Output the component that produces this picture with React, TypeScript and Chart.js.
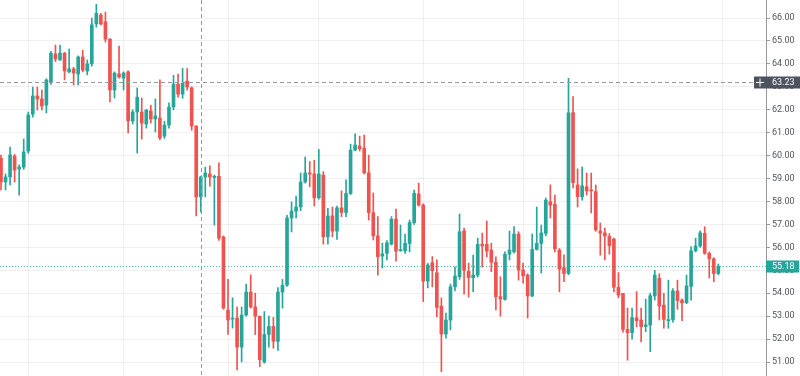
import React, { useEffect, useRef } from 'react';
import { Chart, registerables } from 'chart.js';

Chart.register(...registerables);

// Daily OHLC values
const opens = [
  59.89, 58.85, 59.07, 59.98, 59.42, 59.50, 60.20, 61.81, 62.60, 62.47,
  62.20, 63.20, 64.43, 64.17, 64.47, 63.65, 63.78, 63.56, 64.30, 63.69,
  64.00, 65.74, 66.13, 65.83, 65.08, 62.86, 63.56, 63.38, 63.65, 61.51,
  61.90, 61.90, 61.38, 61.95, 61.60, 61.64, 60.85, 61.33, 62.12, 63.12,
  62.68, 63.25, 62.95, 61.29, 58.20, 59.07, 59.20, 59.05, 59.10, 56.45,
  53.26, 52.87, 52.92, 51.65, 53.05, 54.05, 53.40, 53.00, 51.00, 52.20,
  52.55, 51.90, 54.05, 54.35, 57.28, 57.58, 57.76, 58.85, 59.25, 59.20,
  58.16, 59.15, 56.46, 57.37, 56.71, 57.72, 57.52, 58.35, 60.24, 60.42,
  60.32, 59.25, 57.51, 56.50, 55.62, 55.74, 56.14, 57.23, 55.85, 55.85,
  56.17, 57.08, 58.33, 57.84, 54.53, 55.33, 54.89, 53.44, 52.22, 52.83,
  54.28, 54.72, 56.71, 54.95, 54.68, 54.79, 56.14, 56.13, 55.88, 55.35,
  53.85, 53.73, 55.70, 55.81, 56.58, 55.01, 54.79, 53.88, 55.91, 56.17,
  56.61, 57.99, 57.88, 55.88, 55.12, 54.86, 61.87, 58.72, 58.21, 58.64,
  58.50, 58.43, 56.71, 56.63, 56.48, 56.36, 54.26, 53.99, 52.42, 52.28,
  52.93, 52.83, 52.55, 52.61, 53.88, 54.65, 53.48, 52.80, 52.85, 54.10,
  53.70, 53.58, 54.30, 55.85, 56.06, 56.61, 55.74, 55.50, 54.86,
];
const highs = [
  60.02, 59.20, 60.37, 60.05, 59.60, 60.72, 61.90, 62.99, 62.99, 62.86,
  63.35, 64.55, 64.82, 64.82, 64.50, 64.65, 63.85, 64.35, 64.60, 64.17,
  66.00, 66.60, 66.20, 66.26, 65.10, 63.65, 64.78, 63.65, 63.70, 62.00,
  62.95, 62.51, 62.00, 62.20, 62.47, 63.30, 61.50, 62.30, 63.50, 63.55,
  63.80, 63.80, 63.00, 61.30, 59.10, 59.50, 59.55, 59.15, 59.68, 56.50,
  54.60, 53.80, 53.40, 53.40, 54.40, 54.80, 54.00, 53.00, 53.20, 53.00,
  52.95, 54.25, 54.60, 57.40, 57.98, 58.24, 59.24, 59.94, 59.74, 59.80,
  60.27, 59.30, 57.70, 57.76, 57.80, 58.46, 58.94, 60.50, 60.95, 60.85,
  60.90, 60.02, 58.37, 57.34, 56.18, 56.30, 57.34, 57.67, 56.97, 56.58,
  57.19, 58.50, 58.80, 57.90, 55.30, 55.60, 55.45, 53.79, 53.13, 54.40,
  55.15, 57.45, 56.84, 55.31, 55.66, 56.40, 56.62, 57.15, 56.18, 55.59,
  54.72, 55.80, 56.71, 56.90, 56.68, 55.31, 54.85, 56.58, 57.76, 56.97,
  58.15, 58.72, 58.28, 55.95, 55.67, 63.37, 62.57, 59.42, 59.50, 59.24,
  59.24, 58.72, 57.06, 56.84, 56.60, 56.40, 54.90, 54.00, 53.35, 53.35,
  54.07, 53.35, 53.74, 54.00, 55.00, 54.85, 54.00, 54.57, 54.20, 54.57,
  53.75, 54.79, 56.03, 56.40, 56.72, 56.90, 55.80, 55.55, 55.27,
];
const lows = [
  58.50, 58.50, 58.72, 58.85, 58.28, 59.40, 60.10, 61.68, 61.99, 61.99,
  61.86, 63.10, 64.10, 64.15, 63.30, 63.60, 63.08, 63.08, 63.65, 63.52,
  63.90, 65.60, 65.70, 64.95, 62.34, 62.51, 63.38, 62.86, 60.99, 61.38,
  60.11, 60.72, 61.20, 61.42, 61.03, 60.70, 60.75, 61.20, 62.00, 62.55,
  62.50, 62.85, 61.10, 57.37, 57.54, 58.20, 58.67, 56.97, 56.30, 53.30,
  52.20, 52.48, 50.65, 51.00, 53.00, 53.35, 52.20, 50.80, 50.95, 51.65,
  51.60, 51.50, 53.35, 54.30, 56.67, 57.28, 57.60, 58.80, 58.64, 57.80,
  58.10, 56.14, 56.14, 56.46, 56.35, 57.34, 57.34, 58.30, 60.20, 60.20,
  59.20, 57.19, 56.32, 54.79, 55.10, 55.45, 56.10, 55.40, 55.83, 55.74,
  55.80, 57.00, 57.80, 53.63, 54.23, 54.28, 52.97, 50.58, 52.04, 52.40,
  54.10, 54.60, 53.96, 53.83, 54.07, 54.70, 55.14, 55.58, 54.94, 53.27,
  53.00, 53.70, 55.45, 55.75, 54.57, 54.44, 52.92, 53.85, 55.88, 54.88,
  56.50, 57.28, 55.80, 54.06, 54.50, 54.80, 58.59, 57.76, 58.06, 58.28,
  57.50, 56.70, 55.66, 55.45, 55.70, 54.06, 53.80, 52.30, 51.08, 52.00,
  52.53, 51.88, 52.32, 51.45, 53.70, 52.83, 52.48, 52.47, 52.74, 53.30,
  52.80, 53.55, 53.70, 55.80, 56.00, 55.70, 54.66, 54.50, 54.80,
];
const closes = [
  58.85, 59.07, 60.03, 59.37, 59.50, 60.16, 61.77, 62.60, 62.47, 62.16,
  63.30, 64.47, 64.21, 64.47, 63.69, 63.78, 63.60, 64.30, 63.73, 64.00,
  65.70, 66.20, 65.74, 65.08, 62.86, 63.60, 63.43, 63.60, 61.51, 61.90,
  62.55, 61.42, 61.99, 61.60, 61.73, 60.77, 61.33, 62.12, 63.12, 62.68,
  63.16, 62.99, 61.29, 58.20, 59.07, 59.24, 59.07, 59.10, 56.40, 53.35,
  52.83, 52.91, 51.65, 53.05, 54.05, 53.40, 53.00, 51.10, 52.20, 52.55,
  51.90, 54.05, 54.35, 57.28, 57.58, 57.76, 58.85, 59.24, 59.20, 58.16,
  59.20, 56.46, 57.37, 56.71, 57.72, 57.52, 58.35, 60.24, 60.46, 60.30,
  59.25, 57.51, 56.50, 55.59, 55.72, 56.20, 57.23, 55.83, 55.90, 56.18,
  57.08, 58.35, 57.84, 54.53, 55.23, 54.98, 53.38, 52.22, 52.83, 54.28,
  54.75, 56.68, 55.00, 54.68, 54.79, 56.13, 56.06, 55.84, 55.35, 53.85,
  53.75, 55.70, 55.88, 56.58, 55.01, 54.76, 53.88, 55.91, 56.17, 56.63,
  58.06, 57.84, 55.93, 55.05, 54.86, 61.87, 58.82, 58.21, 58.68, 58.46,
  58.46, 56.76, 56.62, 56.50, 56.07, 54.26, 53.92, 52.42, 52.28, 52.93,
  52.80, 52.54, 52.62, 53.89, 54.79, 53.44, 52.86, 52.85, 54.10, 53.68,
  53.58, 54.32, 55.85, 56.06, 56.63, 55.74, 55.50, 54.86, 55.18,
];

// First trading day of each month (vertical grid lines), as candle indices
const monthStarts = [6, 27, 50, 70, 93, 115, 136, 159];
// Price axis ticks
const priceTicks = [51, 52, 53, 54, 55, 56, 57, 58, 59, 60, 61, 62, 63, 64, 65, 66];
// Crosshair and last-price markers
const crosshairIndex = 44;
const crosshairPrice = 63.23;
const lastPrice = 55.18;

const X_MIN = -0.22;
const X_MAX = 168.5;
const Y_MIN = 50.39;
const Y_MAX = 66.785;

const UP = '#26a69a';
const DOWN = '#ef5350';
const GRID = 'rgba(42, 46, 57, 0.07)';
const AXIS = '#9598a1';
const LABEL_BG = '#4c525e';
const FONT = 'Roboto, "Liberation Sans", sans-serif';

export default function App() {
  const ref = useRef<HTMLCanvasElement>(null);

  useEffect(() => {
    if (!ref.current) return;
    const idx = opens.map((_, i) => i);
    const colors = idx.map((i) => (closes[i] >= opens[i] ? UP : DOWN));

    const overlay = {
      id: 'tvOverlay',
      beforeDatasetsDraw(chart: any) {
        const { ctx, chartArea: a, scales } = chart;
        const py = Math.round(scales.y.getPixelForValue(lastPrice)) + 0.5;
        ctx.save();
        ctx.strokeStyle = UP;
        ctx.globalAlpha = 0.8;
        ctx.lineWidth = 1;
        ctx.setLineDash([1, 2]);
        ctx.beginPath();
        ctx.moveTo(a.left, py);
        ctx.lineTo(a.right, py);
        ctx.stroke();
        ctx.restore();
      },
      afterDraw(chart: any) {
        const { ctx, chartArea: a, scales } = chart;
        const cx = Math.round(scales.x.getPixelForValue(crosshairIndex)) + 0.5;
        const cy = Math.round(scales.y.getPixelForValue(crosshairPrice)) + 0.5;
        const ly = Math.round(scales.y.getPixelForValue(lastPrice)) + 0.5;
        const H = 12;
        ctx.save();
        ctx.strokeStyle = AXIS;
        ctx.lineWidth = 1;
        ctx.setLineDash([4, 3]);
        ctx.beginPath();
        ctx.moveTo(cx, a.top);
        ctx.lineTo(cx, a.bottom);
        ctx.moveTo(a.left, cy);
        ctx.lineTo(a.right - 12, cy);
        ctx.stroke();
        ctx.setLineDash([]);

        // plus button
        ctx.fillStyle = LABEL_BG;
        ctx.fillRect(a.right - 12, cy - H / 2, 12, H);
        ctx.strokeStyle = '#ffffff';
        ctx.beginPath();
        ctx.moveTo(a.right - 10, cy);
        ctx.lineTo(a.right - 2, cy);
        ctx.moveTo(a.right - 6, cy - 4);
        ctx.lineTo(a.right - 6, cy + 4);
        ctx.stroke();

        // crosshair price label
        ctx.fillStyle = LABEL_BG;
        ctx.fillRect(a.right, cy - H / 2, 34, H);
        ctx.fillStyle = '#ffffff';
        ctx.font = `9px ${FONT}`;
        ctx.textBaseline = 'middle';
        ctx.textAlign = 'left';
        ctx.fillText(crosshairPrice.toFixed(2), a.right + 6, cy);

        // last price label
        ctx.fillStyle = UP;
        ctx.fillRect(a.right, ly - H / 2, 33, H);
        ctx.fillStyle = '#ffffff';
        ctx.fillText(lastPrice.toFixed(2), a.right + 6, ly);
        ctx.restore();
      },
    };

    const chart = new Chart(ref.current, {
      type: 'bar',
      data: {
        datasets: [
          {
            label: 'body',
            data: idx.map((i) => ({ x: i, y: [opens[i], closes[i]] })) as any,
            backgroundColor: colors,
            barThickness: 3,
            minBarLength: 1,
            grouped: false,
            order: 0,
            borderWidth: 0,
          },
          {
            label: 'wick',
            data: idx.map((i) => ({ x: i, y: [lows[i], highs[i]] })) as any,
            backgroundColor: colors,
            barThickness: 1,
            grouped: false,
            order: 1,
            borderWidth: 0,
          },
        ],
      },
      options: {
        animation: false,
        responsive: false,
        events: [],
        layout: { padding: 0 },
        plugins: { legend: { display: false }, tooltip: { enabled: false } },
        scales: {
          x: {
            type: 'linear',
            min: X_MIN,
            max: X_MAX,
            bounds: 'data',
            offset: false,
            grid: { color: GRID, offset: false, drawTicks: false },
            border: { display: false },
            ticks: { display: false },
            afterBuildTicks: (s: any) => {
              s.ticks = monthStarts.map((v) => ({ value: v }));
            },
            afterFit: (s: any) => {
              s.height = 0;
              s.paddingLeft = 0;
              s.paddingRight = 0;
            },
          },
          y: {
            type: 'linear',
            position: 'right',
            min: Y_MIN,
            max: Y_MAX,
            bounds: 'data',
            grid: { color: GRID, tickColor: AXIS, tickLength: 4 },
            border: { color: AXIS },
            ticks: {
              padding: 2,
              autoSkip: false,
              color: '#50535e',
              font: { family: FONT, size: 9 },
              callback: (v: any) => Number(v).toFixed(2),
            },
            afterBuildTicks: (s: any) => {
              s.ticks = priceTicks.map((v) => ({ value: v }));
            },
            afterFit: (s: any) => {
              s.width = 34;
              s.paddingTop = 0;
              s.paddingBottom = 0;
            },
          },
        },
      } as any,
      plugins: [overlay],
    });
    return () => chart.destroy();
  }, []);

  return (
    <div style={{ position: 'absolute', left: 0, top: 0, width: 800, height: 376, background: '#ffffff' }}>
      <canvas ref={ref} width={800} height={376} style={{ display: 'block' }} />
    </div>
  );
}
